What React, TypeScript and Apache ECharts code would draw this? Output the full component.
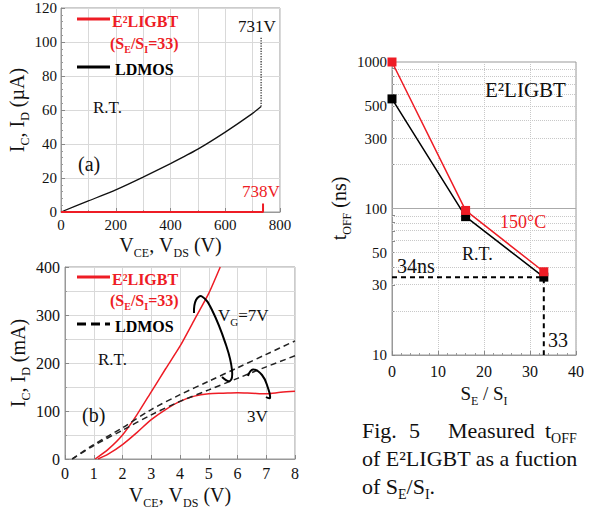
import React, { useEffect, useRef } from "react";
import * as echarts from "echarts";

const SERIF = "Liberation Serif, serif";
const RED = "#ee1c25";

// (a) off-state leakage
const aLdmosV = [0, 100, 200, 300, 400, 500, 600, 700, 731];
const aLdmosI = [0, 6.5, 13, 20.5, 28.5, 37, 47, 58, 62];
const aBreakV = [731, 731];
const aBreakI = [62, 103];
const aIgbtV = [0, 738, 738];
const aIgbtI = [0, 0, 5];

// (b) output characteristics
const bIgbt7V = [1.05, 1.5, 2, 2.5, 3, 3.5, 4, 4.5, 5, 5.4];
const bIgbt7I = [0, 20, 50, 92, 140, 188, 235, 290, 345, 400];
const bIgbt3V = [1.15, 1.5, 2, 2.5, 3, 3.5, 4, 4.5, 5, 5.5, 6, 6.5, 7, 7.5, 8];
const bIgbt3I = [0, 10, 30, 55, 82, 103, 120, 131, 136, 137, 138, 137, 136, 139, 141];
const bLdmos7V = [0.25, 1, 2, 3, 4, 5, 6, 7, 8];
const bLdmos7I = [0, 30, 65, 103, 134, 162, 190, 218, 246];
const bLdmos3V = [0.25, 1, 2, 3, 4, 5, 6, 7, 8];
const bLdmos3I = [0, 28, 60, 92, 120, 144, 168, 192, 215];

// (c) turn-off time vs SE/SI
const cRatio = [0, 16, 33];
const cT150 = [1000, 97, 37];
const cTRT = [560, 88, 34];
const cGuideX = [0, 33, 33];
const cGuideT = [34, 34, 10];
const cLabelTicks = [10, 30, 50, 100, 300, 500, 1000];
const cGridTicks = [20, 30, 40, 50, 60, 70, 80, 90, 200, 300, 400, 500, 600, 700, 800, 900];

const zip = (xs: number[], ys: number[]) => xs.map((x, i) => [x, ys[i]]);
const zipLog = (xs: number[], ys: number[]) => xs.map((x, i) => [x, Math.log10(ys[i])]);

function rich(size: number, color = "#111", weight: any = "normal") {
  const sub = Math.round(size * 0.62);
  return {
    m: { fontSize: size, fontFamily: SERIF, fontWeight: weight, color, fill: color, lineHeight: Math.round(size * 1.4) },
    s: { fontSize: sub, fontFamily: SERIF, fontWeight: weight, color, fill: color, verticalAlign: "bottom", lineHeight: sub },
  };
}

function txt(x: number, y: number, text: string, size: number, color = "#111", weight: any = "normal", useRich = false) {
  const style: any = {
    text,
    x: 0,
    y: 0,
    fill: color,
    fontSize: size,
    fontFamily: SERIF,
    fontWeight: weight,
    verticalAlign: "middle",
    align: "left",
  };
  if (useRich) style.rich = rich(size, color, weight);
  return { type: "text", x, y, style, z: 100 };
}

function hline(x1: number, x2: number, y: number, color: string, dash?: number[]) {
  return {
    type: "line",
    shape: { x1, y1: y, x2, y2: y },
    style: { stroke: color, lineWidth: 3, lineDash: dash },
    z: 100,
  };
}

function loop(points: number[][]) {
  return {
    type: "polyline",
    shape: { points, smooth: 0.45 },
    style: { stroke: "#000", lineWidth: 2, fill: null },
    z: 100,
  };
}

function baseAxis(fontSize: number) {
  return {
    axisLine: { show: true, onZero: false, lineStyle: { color: "#999" } },
    axisTick: { show: true, inside: true, length: 4, lineStyle: { color: "#888" } },
    minorTick: { show: true, length: 2, lineStyle: { color: "#999" } },
    axisLabel: { fontFamily: SERIF, fontSize, color: "#111" },
    splitLine: { show: true, lineStyle: { color: "#d9d9d9" } },
  };
}

export default function App() {
  const ref = useRef<HTMLDivElement>(null);
  useEffect(() => {
    if (!ref.current) return;
    const chart = echarts.init(ref.current, null, { renderer: "svg" });
    const gridMarks = cGridTicks.map((v) => ({ yAxis: Math.log10(v) }));
    const option: any = {
      animation: false,
      backgroundColor: "#fff",
      textStyle: { fontFamily: SERIF },
      grid: [
        { left: 61, top: 8, width: 219, height: 204, show: true, borderColor: "#999", borderWidth: 1 },
        { left: 65, top: 267, width: 230, height: 197, show: true, borderColor: "#999", borderWidth: 1 },
        { left: 392, top: 62, width: 184, height: 293, show: true, borderColor: "#999", borderWidth: 1 },
      ],
      xAxis: [
        {
          ...baseAxis(15),
          gridIndex: 0,
          type: "value",
          min: 0,
          max: 800,
          interval: 200,
          axisLabel: { fontFamily: SERIF, fontSize: 15, color: "#111", margin: 5 },
          minorTick: { show: true, splitNumber: 2, length: 2 },
          minorSplitLine: { show: true, lineStyle: { color: "#d9d9d9" } },
          name: "{m|V}{s|CE}{m|, V}{s|DS}{m| (V)}",
          nameLocation: "middle",
          nameGap: 19,
          nameTextStyle: { rich: rich(20) },
        },
        {
          ...baseAxis(16),
          gridIndex: 1,
          type: "value",
          min: 0,
          max: 8,
          interval: 1,
          axisLabel: { fontFamily: SERIF, fontSize: 16, color: "#111", margin: 6 },
          minorTick: { show: false },
          name: "{m|V}{s|CE}{m|, V}{s|DS}{m| (V)}",
          nameLocation: "middle",
          nameGap: 22,
          nameTextStyle: { rich: rich(20) },
        },
        {
          ...baseAxis(16),
          gridIndex: 2,
          type: "value",
          min: 0,
          max: 40,
          interval: 10,
          axisLabel: { fontFamily: SERIF, fontSize: 16, color: "#111", margin: 8 },
          minorTick: { show: true, splitNumber: 5, length: 2 },
          splitLine: { show: true, lineStyle: { color: "#c8c8c8", type: "dotted" } },
          name: "{m|S}{s|E}{m| / S}{s|I}",
          nameLocation: "middle",
          nameGap: 25,
          nameTextStyle: { rich: rich(19) },
        },
      ],
      yAxis: [
        {
          ...baseAxis(15),
          gridIndex: 0,
          type: "value",
          min: 0,
          max: 120,
          interval: 20,
          axisLabel: { fontFamily: SERIF, fontSize: 15, color: "#111", margin: 4 },
          minorTick: { show: true, splitNumber: 5, length: 2 },
          name: "{m|I}{s|C}{m|, I}{s|D}{m| (µA)}",
          nameLocation: "middle",
          nameRotate: 90,
          nameGap: 25,
          nameTextStyle: { rich: rich(20) },
        },
        {
          ...baseAxis(16),
          gridIndex: 1,
          type: "value",
          min: 0,
          max: 400,
          interval: 100,
          axisLabel: { fontFamily: SERIF, fontSize: 16, color: "#111", margin: 5 },
          minorTick: { show: true, splitNumber: 2, length: 2 },
          minorSplitLine: { show: true, lineStyle: { color: "#d9d9d9" } },
          name: "{m|I}{s|C}{m|, I}{s|D}{m| (mA)}",
          nameLocation: "middle",
          nameRotate: 90,
          nameGap: 29,
          nameTextStyle: { rich: rich(20) },
        },
        {
          ...baseAxis(15),
          gridIndex: 2,
          type: "value",
          min: 1,
          max: 3,
          axisLabel: {
            fontFamily: SERIF,
            fontSize: 15,
            color: "#111",
            margin: 5,
            customValues: cLabelTicks.map((v) => Math.log10(v)),
            formatter: (v: number) => String(Math.round(Math.pow(10, v))),
          },
          axisTick: {
            show: true,
            inside: true,
            length: 3,
            lineStyle: { color: "#888" },
            customValues: cLabelTicks.concat(cGridTicks).map((v) => Math.log10(v)),
          },
          minorTick: { show: false },
          splitLine: { show: false },
          name: "{m|t}{s|OFF}{m| (ns)}",
          nameLocation: "middle",
          nameRotate: 90,
          nameGap: 31,
          nameTextStyle: { rich: rich(20) },
        },
      ],
      series: [
        // (a)
        {
          type: "line",
          xAxisIndex: 0,
          yAxisIndex: 0,
          data: zip(aLdmosV, aLdmosI),
          symbol: "none",
          smooth: 0.2,
          lineStyle: { color: "#111", width: 1.3 },
          z: 5,
        },
        {
          type: "line",
          xAxisIndex: 0,
          yAxisIndex: 0,
          data: zip(aBreakV, aBreakI),
          symbol: "none",
          lineStyle: { color: "#333", width: 1.3, type: "dotted" },
          z: 5,
        },
        {
          type: "line",
          xAxisIndex: 0,
          yAxisIndex: 0,
          data: zip(aIgbtV, aIgbtI),
          symbol: "none",
          clip: false,
          lineStyle: { color: RED, width: 2 },
          z: 6,
        },
        // (b)
        {
          type: "line",
          xAxisIndex: 1,
          yAxisIndex: 1,
          data: zip(bIgbt7V, bIgbt7I),
          symbol: "none",
          smooth: 0.2,
          lineStyle: { color: RED, width: 1.5 },
          z: 5,
        },
        {
          type: "line",
          xAxisIndex: 1,
          yAxisIndex: 1,
          data: zip(bIgbt3V, bIgbt3I),
          symbol: "none",
          smooth: 0.3,
          lineStyle: { color: RED, width: 1.5 },
          z: 5,
        },
        {
          type: "line",
          xAxisIndex: 1,
          yAxisIndex: 1,
          data: zip(bLdmos7V, bLdmos7I),
          symbol: "none",
          smooth: 0.3,
          lineStyle: { color: "#222", width: 1.5, type: [6, 4] },
          z: 5,
        },
        {
          type: "line",
          xAxisIndex: 1,
          yAxisIndex: 1,
          data: zip(bLdmos3V, bLdmos3I),
          symbol: "none",
          smooth: 0.3,
          lineStyle: { color: "#222", width: 1.5, type: [6, 4] },
          z: 5,
        },
        // (c)
        {
          type: "line",
          xAxisIndex: 2,
          yAxisIndex: 2,
          data: [],
          symbol: "none",
          silent: true,
          markLine: {
            silent: true,
            symbol: ["none", "none"],
            label: { show: false },
            lineStyle: { color: "#c8c8c8", type: "dotted", width: 1 },
            data: gridMarks,
          },
          z: 1,
        },
        {
          type: "line",
          xAxisIndex: 2,
          yAxisIndex: 2,
          data: [],
          symbol: "none",
          silent: true,
          markLine: {
            silent: true,
            symbol: ["none", "none"],
            label: { show: false },
            lineStyle: { color: "#aaa", type: "solid", width: 1 },
            data: [{ yAxis: 2 }],
          },
          z: 1,
        },
        {
          type: "line",
          xAxisIndex: 2,
          yAxisIndex: 2,
          data: zipLog(cGuideX, cGuideT),
          symbol: "none",
          lineStyle: { color: "#000", width: 2, type: [5, 4] },
          z: 4,
        },
        {
          type: "line",
          xAxisIndex: 2,
          yAxisIndex: 2,
          data: zipLog(cRatio, cTRT),
          symbol: "rect",
          symbolSize: 9,
          clip: false,
          itemStyle: { color: "#000" },
          lineStyle: { color: "#000", width: 1.5 },
          z: 6,
        },
        {
          type: "line",
          xAxisIndex: 2,
          yAxisIndex: 2,
          data: zipLog(cRatio, cT150),
          symbol: "rect",
          symbolSize: 9,
          clip: false,
          itemStyle: { color: RED },
          lineStyle: { color: RED, width: 1.5 },
          z: 7,
        },
      ],
      graphic: [
        // legend (a)
        hline(77, 110, 19, RED),
        txt(112, 21, "E²LIGBT", 16, RED, "bold"),
        txt(110, 43, "{m|(S}{s|E}{m|/S}{s|I}{m|=33)}", 16, RED, "bold", true),
        hline(77, 110, 67, "#000"),
        txt(115, 69, "LDMOS", 16, "#000", "bold"),
        txt(238, 26, "731V", 17),
        txt(242, 191, "738V", 17, RED),
        txt(93, 107, "R.T.", 17),
        txt(78, 164, "(a)", 20),
        // legend (b)
        hline(77, 110, 277, RED),
        txt(112, 279, "E²LIGBT", 16, RED, "bold"),
        txt(110, 300, "{m|(S}{s|E}{m|/S}{s|I}{m|=33)}", 16, RED, "bold", true),
        hline(77, 110, 324, "#000", [9, 5]),
        txt(115, 326, "LDMOS", 16, "#000", "bold"),
        txt(98, 359, "R.T.", 17),
        txt(82, 415, "(b)", 20),
        txt(218, 315, "{m|V}{s|G}{m|=7V}", 17, "#111", "normal", true),
        txt(247, 416, "3V", 17),
        loop([[194, 313], [196, 300], [202, 296.5], [212, 310], [226, 345], [232, 370], [230, 381], [222, 377]]),
        loop([[248, 376], [253, 369.5], [262, 375], [268, 388], [270, 398], [266, 397]]),
        // (c) annotations
        txt(485, 90, "E²LIGBT", 21),
        txt(500, 222, "150°C", 18, RED),
        txt(462, 254, "R.T.", 18),
        txt(397, 266, "34ns", 20),
        txt(548, 340, "33", 20),
        // caption
        txt(362, 430, "Fig.", 22),
        txt(409, 430, "5", 22),
        txt(448, 430, "Measured", 22),
        txt(545, 430, "{m|t}{s|OFF}", 22, "#111", "normal", true),
        txt(362, 458, "of E²LIGBT as a fuction", 22),
        txt(362, 486, "{m|of S}{s|E}{m|/S}{s|I}{m|.}", 22, "#111", "normal", true),
      ],
    };
    chart.setOption(option);
    return () => chart.dispose();
  }, []);
  return (
    <div
      ref={ref}
      style={{ position: "fixed", left: 0, top: 0, width: 597, height: 510, background: "#fff" }}
    />
  );
}
